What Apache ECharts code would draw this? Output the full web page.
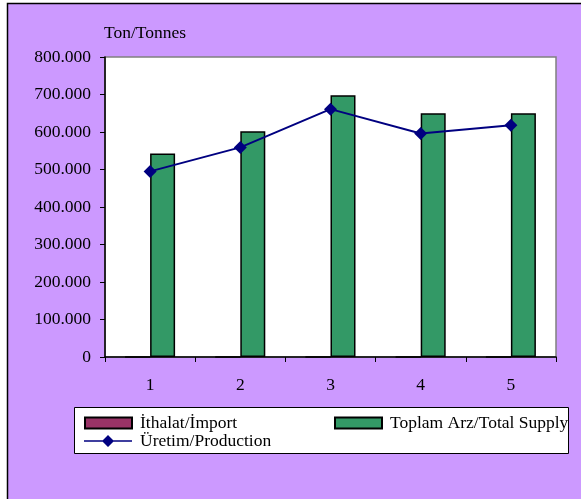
<!DOCTYPE html>
<html>
<head>
<meta charset="utf-8">
<script src="https://cdn.jsdelivr.net/npm/echarts@6/dist/echarts.min.js"></script>
<style>
html,body{margin:0;padding:0;background:#fff;}
#c{width:581px;height:499px;}
</style>
</head>
<body>
<div id="c"></div>
<script>
const categories = ['1', '2', '3', '4', '5'];
const importValues = [0, 0, 0, 0, 0];
const totalSupply = [543000, 602000, 698000, 650000, 650000];
const production = [495000, 559000, 661000, 596000, 618000];
const yTicks = { min: 0, max: 800000, interval: 100000 };
const names = { imp: 'İthalat/İmport', total: 'Toplam Arz/Total Supply', prod: 'Üretim/Production', unit: 'Ton/Tonnes' };

const font = 'Liberation Serif';
const fs = 17.5;
const chart = echarts.init(document.getElementById('c'), null, { renderer: 'canvas' });

function fmt(v) {
  if (v === 0) return '0';
  return String(v).replace(/\B(?=(\d{3})+(?!\d))/g, '.');
}
const legText = { fontFamily: font, fontSize: fs, color: '#000', lineHeight: 17, padding: [0, 0, 0, 3] };
const lineIcon = 'path://M0,5.2 L48,5.2 L48,6.8 L0,6.8 Z M18,6 L24,0 L30,6 L24,12 Z';

chart.setOption({
  backgroundColor: '#ffffff',
  animation: false,
  graphic: [
    { type: 'rect', z: -10, shape: { x: 7.5, y: 3.5, width: 700, height: 700 },
      style: { fill: '#CC99FF', stroke: '#000', lineWidth: 1.5 } },
    { type: 'rect', z: -5, shape: { x: 74.5, y: 407.5, width: 494, height: 46 },
      style: { fill: '#ffffff', stroke: '#000', lineWidth: 1 } }
  ],
  grid: { left: 105, right: 25, top: 57, bottom: 142, show: true, backgroundColor: '#ffffff', borderColor: '#808080', borderWidth: 1.5 },
  legend: [
    { data: [{ name: names.imp, icon: 'rect' }], orient: 'vertical', left: 84, top: 414, padding: 0, itemWidth: 47, itemHeight: 11, itemGap: 0,
      textStyle: legText },
    { data: [{ name: names.prod, icon: lineIcon }], orient: 'vertical', left: 84, top: 432, padding: 0, itemWidth: 48, itemHeight: 12, itemGap: 0,
      itemStyle: { color: '#000080', borderWidth: 0 }, lineStyle: { width: 0 },
      textStyle: legText },
    { data: [{ name: names.total, icon: 'rect' }], orient: 'vertical', left: 334, top: 414, padding: 0, itemWidth: 47, itemHeight: 11, itemGap: 0,
      textStyle: legText }
  ],
  xAxis: {
    type: 'category', data: categories, boundaryGap: true,
    axisLine: { lineStyle: { color: '#000', width: 1.5 } },
    axisTick: { show: true, length: 5, lineStyle: { color: '#000' } },
    axisLabel: { fontFamily: font, fontSize: fs, color: '#000', margin: 19 },
    splitLine: { show: false }
  },
  yAxis: {
    type: 'value', min: yTicks.min, max: yTicks.max, interval: yTicks.interval,
    name: names.unit, nameLocation: 'end', nameGap: 24,
    nameTextStyle: { fontFamily: font, fontSize: fs, color: '#000', align: 'left', verticalAlign: 'middle', padding: [0, 0, 0, -1] },
    axisLine: { show: true, lineStyle: { color: '#000', width: 1.5 } },
    axisTick: { show: true, length: 5, lineStyle: { color: '#000' } },
    axisLabel: { fontFamily: font, fontSize: fs, color: '#000', margin: 14, formatter: fmt },
    splitLine: { show: false }
  },
  series: [
    { name: names.imp, type: 'bar', data: importValues, barWidth: 25, barGap: '0%',
      itemStyle: { color: '#993366', borderColor: '#000', borderWidth: 1 } },
    { name: names.total, type: 'bar', data: totalSupply, barWidth: 25, barGap: '0%',
      itemStyle: { color: '#339966', borderColor: '#000', borderWidth: 1.5 } },
    { name: names.prod, type: 'line', data: production, symbol: 'diamond', symbolSize: 13,
      lineStyle: { color: '#000080', width: 2 }, itemStyle: { color: '#000080' } }
  ]
});
</script>
</body>
</html>
